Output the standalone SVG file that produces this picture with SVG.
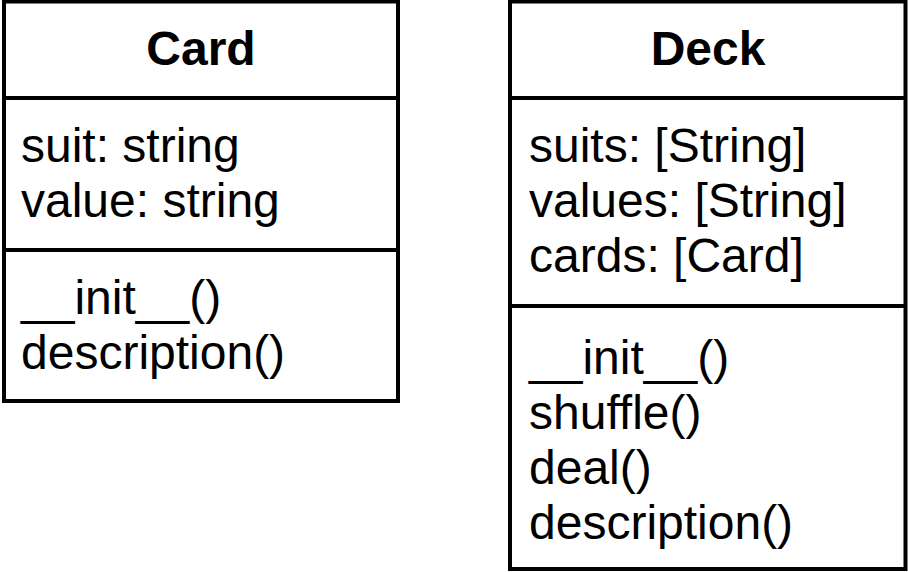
<svg xmlns="http://www.w3.org/2000/svg" width="908" height="572" viewBox="0 0 908 572">
  <style>
    .box { fill: #ffffff; stroke: #000000; stroke-width: 4; }
    .sep { stroke: #000000; stroke-width: 4; fill: none; }
    .title { font-family: "Liberation Sans", Arial, Helvetica, sans-serif; font-size: 48px; font-weight: bold; fill: #000000; text-anchor: middle; }
    .member { font-family: "Liberation Sans", Arial, Helvetica, sans-serif; font-size: 48px; fill: #000000; }
  </style>
  <rect width="908" height="572" fill="#ffffff"/>

  <!-- Card class -->
  <g id="card">
    <rect class="box" x="4" y="1.5" width="394" height="399.5"/>
    <line class="sep" x1="4" y1="98" x2="398" y2="98"/>
    <line class="sep" x1="4" y1="250" x2="398" y2="250"/>
    <text class="title" x="201" y="65">Card</text>
    <text class="member" x="21" y="162">suit: string</text>
    <text class="member" x="21" y="217">value: string</text>
    <text class="member" x="21" y="314">__init__()</text>
    <text class="member" x="21" y="369">description()</text>
  </g>

  <!-- Deck class -->
  <g id="deck">
    <rect class="box" x="510" y="1.5" width="395.5" height="567.5"/>
    <line class="sep" x1="510" y1="98" x2="905.5" y2="98"/>
    <line class="sep" x1="510" y1="306" x2="905.5" y2="306"/>
    <text class="title" x="708" y="65">Deck</text>
    <text class="member" x="529" y="162">suits: [String]</text>
    <text class="member" x="529" y="217">values: [String]</text>
    <text class="member" x="529" y="272">cards: [Card]</text>
    <text class="member" x="529" y="374">__init__()</text>
    <text class="member" x="529" y="429">shuffle()</text>
    <text class="member" x="529" y="484">deal()</text>
    <text class="member" x="529" y="539">description()</text>
  </g>

  <!-- no connectors between the classes -->
  <g id="connectors"/>
</svg>
